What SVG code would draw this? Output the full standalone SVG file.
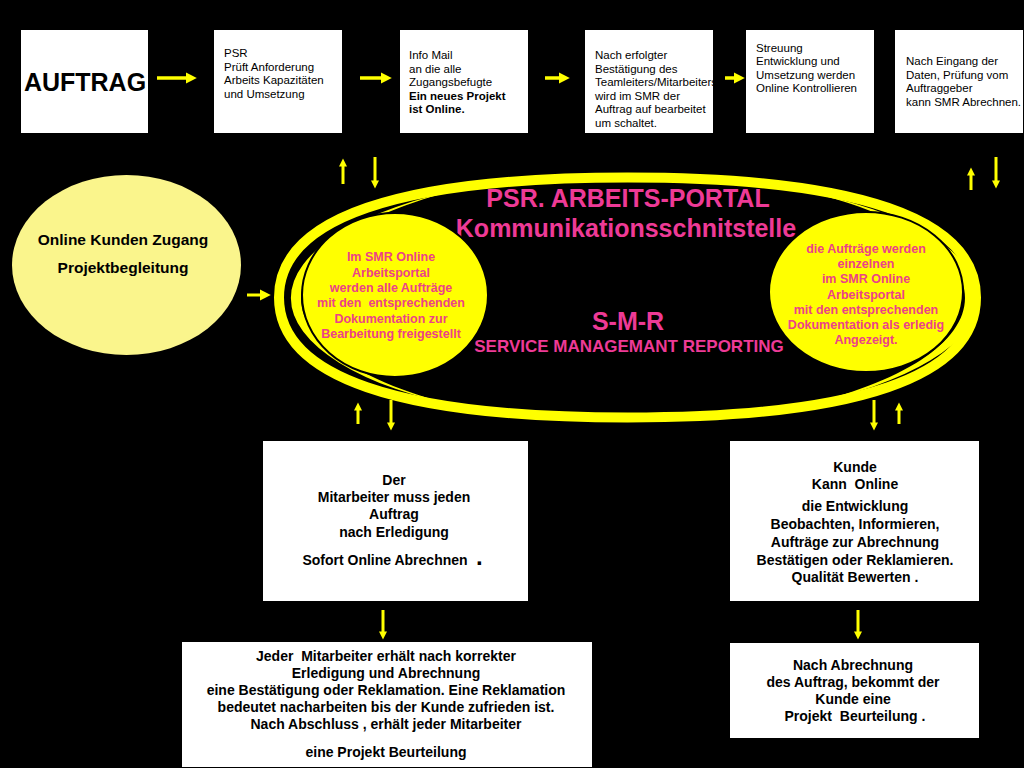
<svg xmlns="http://www.w3.org/2000/svg" width="1024" height="768" viewBox="0 0 1024 768">
<defs>
<style>
text{font-family:"Liberation Sans",Arial,Helvetica,sans-serif}
.box{fill:#ffffff}
.top{font-size:11.5px;fill:#000}
.bb{font-weight:bold}
.mid{font-size:14px;font-weight:bold;text-anchor:middle;fill:#000}
.pk{fill:#EE3A96;font-weight:bold;text-anchor:middle}
.pky{fill:#EC4288;font-weight:bold;text-anchor:middle;font-size:12.5px}
.ring{fill:none;stroke:#FFFF00}
.cres{fill:#FFFF00;stroke:none}
.small{fill:#FFFF00;stroke:#000;stroke-width:2}
.arr{stroke:#FFFF00;stroke-width:3;fill:none}
.arrb{stroke:#FFFF00;stroke-width:3.5;fill:none}
</style>
<marker id="hb" viewBox="0 0 10 10" refX="2" refY="5" markerUnits="userSpaceOnUse" markerWidth="11" markerHeight="12" orient="auto"><path d="M0,0 L10,5 L0,10 z" fill="#FFFF00"/></marker>
<marker id="hs" viewBox="0 0 10 10" refX="2" refY="5" markerUnits="userSpaceOnUse" markerWidth="10" markerHeight="8" orient="auto"><path d="M0,0 L10,5 L0,10 z" fill="#FFFF00"/></marker>
</defs>
<rect x="0" y="0" width="1024" height="768" fill="#000"/>

<g id="auftrag">
<rect class="box" x="21" y="30" width="127" height="103"/>
<text x="85" y="91" text-anchor="middle" font-size="25" font-weight="bold" fill="#000">AUFTRAG</text>
</g>
<g id="psr-pruefung">
<rect class="box" x="214" y="30" width="128" height="103"/>
<text class="top"><tspan x="224" y="57">PSR</tspan><tspan x="224" y="70.5">Prüft Anforderung</tspan><tspan x="224" y="84">Arbeits Kapazitäten</tspan><tspan x="224" y="97.5">und Umsetzung</tspan></text>
</g>
<g id="info-mail">
<rect class="box" x="400" y="30" width="128" height="103"/>
<text class="top"><tspan x="409" y="59">Info Mail</tspan><tspan x="409" y="72.5">an die alle</tspan><tspan x="409" y="86">Zugangsbefugte</tspan><tspan x="409" y="99.5" class="bb">Ein neues Projekt</tspan><tspan x="409" y="113" class="bb">ist Online.</tspan></text>
</g>
<g id="bestaetigung">
<rect class="box" x="585" y="30" width="128" height="103"/>
<text class="top"><tspan x="595" y="59">Nach erfolgter</tspan><tspan x="595" y="72.5">Bestätigung des</tspan><tspan x="595" y="86">Teamleiters/Mitarbeiters</tspan><tspan x="595" y="99.5">wird im SMR der</tspan><tspan x="595" y="113">Auftrag auf bearbeitet</tspan><tspan x="595" y="126.5">um schaltet.</tspan></text>
</g>
<g id="streuung">
<rect class="box" x="746" y="30" width="128" height="103"/>
<text class="top"><tspan x="756" y="51.5">Streuung</tspan><tspan x="756" y="65">Entwicklung und</tspan><tspan x="756" y="78.5">Umsetzung werden</tspan><tspan x="756" y="92">Online Kontrollieren</tspan></text>
</g>
<g id="abrechnen">
<rect class="box" x="895" y="30" width="128" height="103"/>
<text class="top"><tspan x="906" y="65">Nach Eingang der</tspan><tspan x="906" y="78.5">Daten, Prüfung vom</tspan><tspan x="906" y="92">Auftraggeber</tspan><tspan x="906" y="105.5">kann SMR Abrechnen.</tspan></text>
</g>

<g id="kunden-zugang">
<ellipse cx="126.5" cy="265" rx="114.5" ry="90" fill="#FAF58C"/>
<text x="123" y="245" text-anchor="middle" font-size="15.5" font-weight="bold" fill="#000">Online Kunden Zugang</text>
<text x="123" y="273" text-anchor="middle" font-size="15.5" font-weight="bold" fill="#000">Projektbegleitung</text>
</g>

<g id="portal">
<path class="ring" stroke-width="10" d="M279 297.5 C279 218.3 397.5 177.5 627.5 177.5 C857.5 177.5 976 218.3 976 297.5 C976 376.7 857.5 417.5 627.5 417.5 C397.5 417.5 279 376.7 279 297.5 Z"/>
<path class="cres" d="M470 187 A340 126 0 0 0 470 409 A339 128.3 0 0 1 470 187 Z"/>
<path class="cres" d="M800 190 A348 123.8 0 0 1 800 406 A345 126.6 0 0 0 800 190 Z"/>
<text class="pk" x="628" y="207" font-size="25">PSR. ARBEITS-PORTAL</text>
<text class="pk" x="626" y="237" font-size="25">Kommunikationsschnitstelle</text>
<text class="pk" x="628" y="330" font-size="25">S-M-R</text>
<text class="pk" x="629" y="352" font-size="17">SERVICE MANAGEMANT REPORTING</text>
</g>

<g id="freigabe">
<ellipse class="small" cx="395" cy="295" rx="93" ry="82"/>
<text class="pky" xml:space="preserve"><tspan x="391" y="261">Im SMR Online</tspan><tspan x="391" y="276.5">Arbeitsportal</tspan><tspan x="391" y="292">werden alle Aufträge</tspan><tspan x="391" y="307">mit den  entsprechenden</tspan><tspan x="391" y="322.5">Dokumentation zur</tspan><tspan x="391" y="338">Bearbeitung freigestellt</tspan></text>
</g>

<g id="erledigt">
<ellipse class="small" cx="866" cy="292" rx="97" ry="80"/>
<text class="pky"><tspan x="866" y="253">die Aufträge werden</tspan><tspan x="866" y="268.2">einzelnen</tspan><tspan x="866" y="283.4">im SMR Online</tspan><tspan x="866" y="298.6">Arbeitsportal</tspan><tspan x="866" y="313.8">mit den entsprechenden</tspan><tspan x="866" y="329">Dokumentation als erledig</tspan><tspan x="866" y="344.2">Angezeigt.</tspan></text>
</g>

<g id="mitarbeiter-abrechnen">
<rect class="box" x="263" y="441" width="265" height="160"/>
<text class="mid"><tspan x="394" y="485">Der</tspan><tspan x="394" y="502">Mitarbeiter muss jeden</tspan><tspan x="394" y="519">Auftrag</tspan><tspan x="394" y="536.5">nach Erledigung</tspan><tspan x="385" y="565">Sofort Online Abrechnen</tspan></text>
<text x="476" y="565" font-size="24" font-weight="bold" fill="#000">.</text>
</g>

<g id="kunde-online">
<rect class="box" x="730" y="441" width="249" height="160"/>
<text class="mid" xml:space="preserve"><tspan x="855" y="471.5">Kunde</tspan><tspan x="855" y="489">Kann  Online</tspan><tspan x="855" y="511">die Entwicklung</tspan><tspan x="855" y="529">Beobachten, Informieren,</tspan><tspan x="855" y="546.5">Aufträge zur Abrechnung</tspan><tspan x="855" y="564.5">Bestätigen oder Reklamieren.</tspan><tspan x="855" y="581.5">Qualität Bewerten .</tspan></text>
</g>

<g id="mitarbeiter-beurteilung">
<rect class="box" x="182" y="642" width="410" height="125"/>
<text class="mid" xml:space="preserve"><tspan x="386" y="660.5">Jeder  Mitarbeiter erhält nach korrekter</tspan><tspan x="386" y="677.5">Erledigung und Abrechnung</tspan><tspan x="386" y="695">eine Bestätigung oder Reklamation. Eine Reklamation</tspan><tspan x="386" y="712">bedeutet nacharbeiten bis der Kunde zufrieden ist.</tspan><tspan x="386" y="729">Nach Abschluss , erhält jeder Mitarbeiter</tspan><tspan x="386" y="756.5">eine Projekt Beurteilung</tspan></text>
</g>

<g id="kunde-beurteilung">
<rect class="box" x="730" y="643" width="249" height="95"/>
<text class="mid" xml:space="preserve"><tspan x="853" y="670">Nach Abrechnung</tspan><tspan x="853" y="687">des Auftrag, bekommt der</tspan><tspan x="853" y="704">Kunde eine</tspan><tspan x="853" y="721"> Projekt  Beurteilung .</tspan></text>
</g>

<g id="connectors">
<line class="arrb" x1="157" y1="78" x2="188" y2="78" marker-end="url(#hb)"/>
<line class="arrb" x1="360" y1="78" x2="383" y2="78" marker-end="url(#hb)"/>
<line class="arrb" x1="545" y1="78" x2="561" y2="78" marker-end="url(#hb)"/>
<line class="arrb" x1="725" y1="78" x2="736" y2="78" marker-end="url(#hb)"/>
<line class="arr" x1="247" y1="295" x2="262" y2="295" marker-end="url(#hb)"/>
<line class="arr" x1="343" y1="184" x2="343" y2="165" marker-end="url(#hs)"/>
<line class="arr" x1="375" y1="157" x2="375" y2="182" marker-end="url(#hs)"/>
<line class="arr" x1="971" y1="190" x2="971" y2="174" marker-end="url(#hs)"/>
<line class="arr" x1="996" y1="157" x2="996" y2="182" marker-end="url(#hs)"/>
<line class="arr" x1="358" y1="424" x2="358" y2="409" marker-end="url(#hs)"/>
<line class="arr" x1="391" y1="400" x2="391" y2="424" marker-end="url(#hs)"/>
<line class="arr" x1="874" y1="400" x2="874" y2="424" marker-end="url(#hs)"/>
<line class="arr" x1="899" y1="424" x2="899" y2="409" marker-end="url(#hs)"/>
<line class="arr" x1="383" y1="610" x2="383" y2="633" marker-end="url(#hs)"/>
<line class="arr" x1="858" y1="610" x2="858" y2="633" marker-end="url(#hs)"/>
</g>
</svg>
